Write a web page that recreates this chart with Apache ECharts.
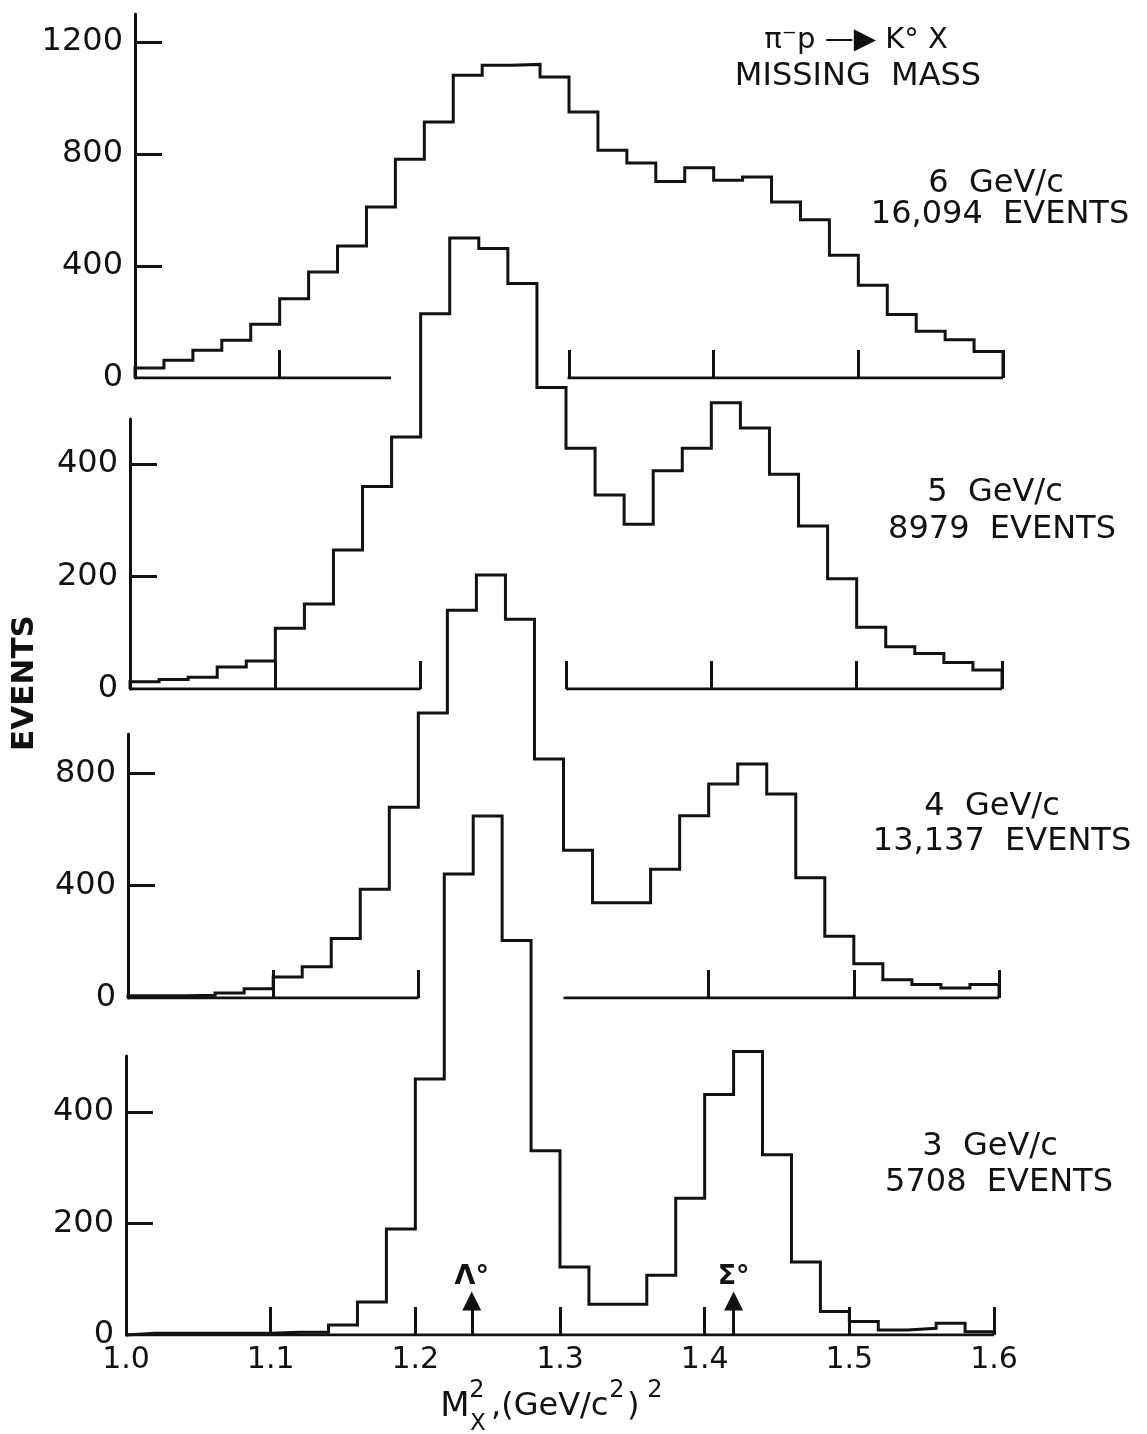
<!DOCTYPE html>
<html lang="en">
<head>
<meta charset="UTF-8">
<title>Missing mass</title>
<style>
  html, body { margin: 0; padding: 0; background: #fff; }
  #main { width: 1147px; height: 1434px; }
</style>
</head>
<body>
<div id="main"></div>
<script src="https://cdn.jsdelivr.net/npm/echarts@6/dist/echarts.min.js"></script>
<script type="text/javascript">
// histogram bins: M_X^2 from 1.00 to 1.60 in steps of 0.02
var binStart = 1.0;
var binWidth = 0.02;

// events per bin (top to bottom)
var events6 = [36, 63, 99, 135, 192, 283, 379, 471, 611, 781, 914, 1081, 1117, 1120, 1075,
               950, 813, 768, 702, 751, 706, 718, 629, 565, 438, 331, 227, 167, 137, 95];
var events5 = [13, 17, 21, 39, 50, 108, 151, 247, 360, 448, 667, 802, 783, 721, 536,
               428, 345, 293, 388, 428, 509, 464, 382, 290, 196, 110, 75, 63, 47, 34];
var events4 = [8, 8, 10, 18, 33, 75, 111, 212, 387, 679, 1015, 1381, 1506, 1349, 851,
               526, 339, 339, 458, 649, 762, 833, 726, 428, 220, 122, 65, 48, 36, 48];
var events3 = [3, 3, 3, 3, 3, 5, 5, 18, 59, 190, 459, 826, 930, 707, 330,
               122, 55, 55, 107, 245, 431, 508, 323, 131, 42, 24, 9, 12, 21, 6];

var momentumLabels = ['6  GeV/c', '5  GeV/c', '4  GeV/c', '3  GeV/c'];
var countLabels = ['16,094  EVENTS', '8979  EVENTS', '13,137  EVENTS', '5708  EVENTS'];

// y axis tops and tick labels of each panel
var yMax = [1300, 480, 940, 500];
var yLabels = [[0, 400, 800, 1200], [0, 200, 400], [0, 400, 800], [0, 200, 400]];
var xLabels = [1.0, 1.1, 1.2, 1.3, 1.4, 1.5, 1.6];
// x ticks and baseline pieces (the baselines are broken where the lower histogram passes)
var xTickValues = [[1.1, 1.3, 1.4, 1.5, 1.6], [1.1, 1.2, 1.3, 1.4, 1.5, 1.6],
                   [1.1, 1.2, 1.4, 1.5, 1.6], [1.1, 1.2, 1.3, 1.4, 1.5, 1.6]];
var baseSegments = [[[1.0, 1.177], [1.299, 1.6]], [[1.0, 1.2], [1.3, 1.6]],
                    [[1.0, 1.2], [1.3, 1.6]], [[1.0, 1.6]]];

// particle markers on the 3 GeV/c plot
var markers = [{ name: 'Λ°', x: 1.239 }, { name: 'Σ°', x: 1.42 }];
var markerHeight = 61;

var allEvents = [events6, events5, events4, events3];
var ink = '#111';
var fontFam = '"DejaVu Sans", sans-serif';

// panel placement in pixels
var grids = [
  { left: 135, right: 144, top: 14, height: 364 },
  { left: 130, right: 145, top: 419, height: 270 },
  { left: 128, right: 148, top: 734, height: 264 },
  { left: 126, right: 153, top: 1056, height: 279 }
];

function steps(vals) {
  var pts = [[binStart, 0]];
  for (var i = 0; i < vals.length; i++) {
    var a = +(binStart + i * binWidth).toFixed(2);
    var b = +(binStart + (i + 1) * binWidth).toFixed(2);
    pts.push([a, vals[i]]);
    pts.push([b, vals[i]]);
  }
  pts.push([pts[pts.length - 1][0], 0]);
  return pts;
}

function baseline(segs) {
  var pts = [];
  segs.forEach(function (s, i) {
    if (i > 0) pts.push([(segs[i - 1][1] + s[0]) / 2, '-']);
    pts.push([s[0], 0]);
    pts.push([s[1], 0]);
  });
  return pts;
}

var xAxes = [], yAxes = [], series = [];
for (var p = 0; p < 4; p++) {
  var last = p === 3;
  xAxes.push({
    type: 'value', gridIndex: p, min: 1.0, max: 1.6, interval: 0.1,
    axisLine: { show: false },
    axisTick: { show: true, inside: true, length: 28, customValues: xTickValues[p],
                lineStyle: { color: ink, width: 3 } },
    axisLabel: { show: last, customValues: xLabels, margin: 10, color: ink,
                 fontSize: 30, fontFamily: fontFam,
                 formatter: function (v) { return v.toFixed(1); } },
    splitLine: { show: false }
  });
  yAxes.push({
    type: 'value', gridIndex: p, min: 0, max: yMax[p],
    axisLine: { show: true, lineStyle: { color: ink, width: 3 } },
    axisTick: { show: true, inside: true, length: 27, customValues: yLabels[p].slice(1),
                lineStyle: { color: ink, width: 3 } },
    axisLabel: { customValues: yLabels[p], margin: 12, color: ink, fontSize: 32, fontFamily: fontFam,
                 formatter: function (v) { return String(v); } },
    splitLine: { show: false }
  });
  series.push({
    type: 'line', xAxisIndex: p, yAxisIndex: p, data: baseline(baseSegments[p]),
    symbol: 'none', silent: true, connectNulls: false,
    lineStyle: { color: ink, width: 3 }
  });
  var s = {
    type: 'line', xAxisIndex: p, yAxisIndex: p, data: steps(allEvents[p]),
    symbol: 'none', silent: true, clip: false, z: 3,
    lineStyle: { color: ink, width: 3, join: 'miter' }
  };
  if (last) {
    s.markLine = {
      silent: true, symbol: ['none', 'triangle'], symbolSize: 19,
      lineStyle: { color: ink, width: 3, type: 'solid' },
      label: { show: true, position: 'end', distance: 10, color: ink,
               fontSize: 27, fontFamily: fontFam, fontWeight: 'bold',
               formatter: function (d) { return d.name; } },
      data: markers.map(function (m) {
        return [{ name: m.name, coord: [m.x, 0] }, { coord: [m.x, markerHeight] }];
      })
    };
  }
  series.push(s);
}

var graphic = [];
function txt(t, x, y, size, opts) {
  opts = opts || {};
  graphic.push({
    type: 'text', x: x, y: y, rotation: opts.rotation || 0, silent: true,
    style: { text: t, fill: ink, font: (opts.weight || 'normal') + ' ' + size + 'px ' + fontFam,
             align: opts.align || 'center', verticalAlign: 'middle' }
  });
}
var labelPos = [[996, 184, 1000, 215], [995, 493, 1002, 530], [992, 807, 1002, 842], [990, 1147, 999, 1183]];
for (var i = 0; i < 4; i++) {
  txt(momentumLabels[i], labelPos[i][0], labelPos[i][1], 32);
  txt(countLabels[i], labelPos[i][2], labelPos[i][3], 32);
}
txt('π⁻p —▶ K° X', 856, 40, 29);
txt('MISSING  MASS', 858, 77, 32);
txt('EVENTS', 25, 683, 31, { rotation: Math.PI / 2, weight: 'bold' });
// x axis title M_X^2, (GeV/c^2)^2
txt('M', 455, 1407, 34);
txt('2', 477, 1391, 24);
txt('X', 478, 1424, 23);
txt(',(GeV/c', 491, 1407, 32, { align: 'left' });
txt('2', 617, 1391, 24);
txt(')', 627, 1407, 32, { align: 'left' });
txt('2', 655, 1391, 24);

var myChart = echarts.init(document.getElementById('main'));
var option = {
  backgroundColor: '#fff',
  animation: false,
  grid: grids,
  xAxis: xAxes,
  yAxis: yAxes,
  series: series,
  graphic: graphic
};
myChart.setOption(option);
</script>
</body>
</html>
